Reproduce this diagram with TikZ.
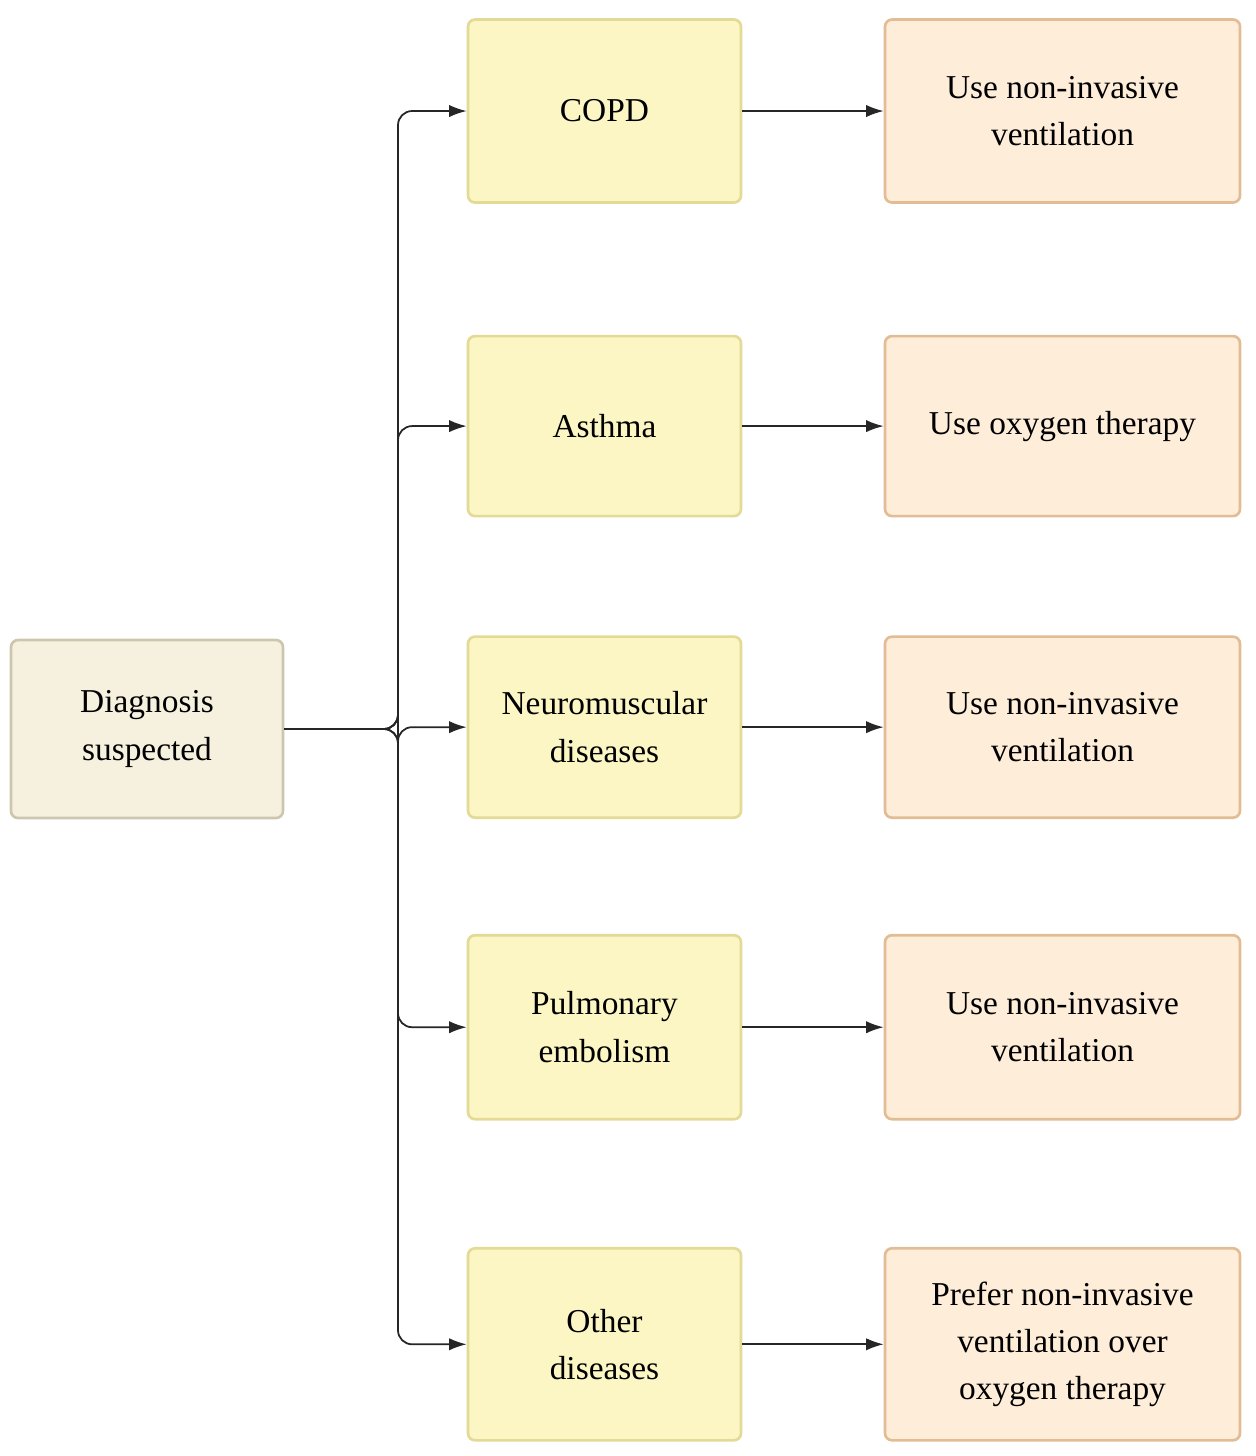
\documentclass[tikz,border=0pt]{standalone}
\usepackage{fontspec}
\setmainfont{Liberation Serif}
\usetikzlibrary{arrows.meta}
\definecolor{diagfill}{HTML}{F6F1DE}
\definecolor{diagline}{HTML}{CDC5AE}
\definecolor{disfill}{HTML}{FBF6C4}
\definecolor{disline}{HTML}{E3DA95}
\definecolor{actfill}{HTML}{FDEDD9}
\definecolor{actline}{HTML}{E2BC94}
\tikzstyle{box}=[draw, line width=1.5pt, rounded corners=4pt, align=center, font=\fontsize{19}{27}\selectfont]
\tikzstyle{diagbox}=[box, fill=diagfill, draw=diagline, minimum width=5.44cm, minimum height=3.56cm]
\tikzstyle{disbox}=[box, fill=disfill, draw=disline, minimum width=5.46cm]
\tikzstyle{actbox}=[box, fill=actfill, draw=actline, minimum width=7.1cm]
\tikzstyle{conn}=[draw=black!85, line width=1pt, rounded corners=8pt, -{Latex[length=10pt,width=7pt]}]
\newcommand{\step}[5]{% name, centre y (px), height (px), disease, action
  \node[disbox, minimum height=#3*0.02cm] (d#1) at (12.09, -#2*0.02) {#4};
  \node[actbox, minimum height=#3*0.02cm] (a#1) at (21.25, -#2*0.02) {#5};
  \draw[conn] (diag.east) -- (bus) |- (d#1.west);
  \draw[conn] (d#1.east) -- (a#1.west);
}
\begin{document}
\begin{tikzpicture}
  \useasboundingbox (0,0) rectangle (25.12,-29.12);
  \node[diagbox] (diag) at (2.94,-14.58) {Diagnosis\\suspected};
  \coordinate (bus) at (7.96,-14.58);
  \step{1}{111}{183}{COPD}{Use non-invasive\\ventilation}
  \step{2}{426}{180}{Asthma}{Use oxygen therapy}
  \step{3}{727}{181}{Neuromuscular\\diseases}{Use non-invasive\\ventilation}
  \step{4}{1027}{184}{Pulmonary\\embolism}{Use non-invasive\\ventilation}
  \step{5}{1344}{192}{Other\\diseases}{Prefer non-invasive\\ventilation over\\oxygen therapy}
\end{tikzpicture}
\end{document}
